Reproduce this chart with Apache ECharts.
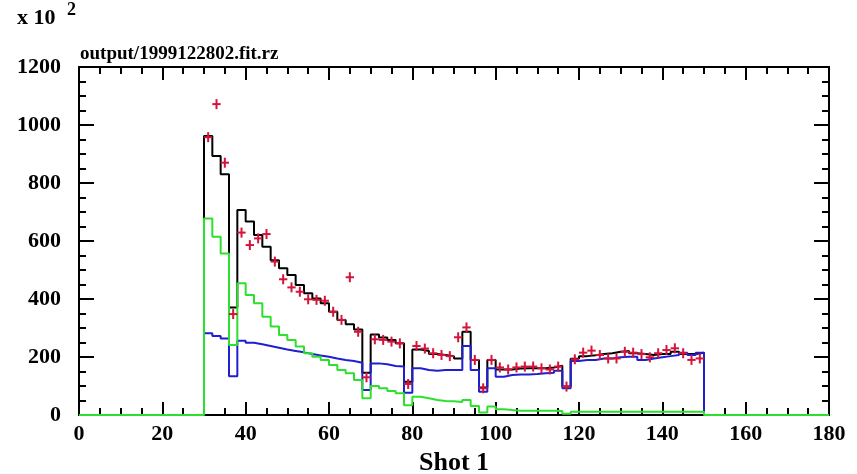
<!DOCTYPE html>
<html>
<head>
<meta charset="utf-8">
<title>Shot 1</title>
<script src="https://cdn.jsdelivr.net/npm/echarts@6/dist/echarts.min.js"></script>
<style>
  html, body { margin: 0; padding: 0; background: #fff; }
  #chart { width: 857px; height: 474px; }
</style>
</head>
<body>
<div id="chart"></div>
<script>
// histogram bins: 60 bins of width 2, from 30 to 150 (values in units of 10^2)
const binStart = 30;
const binWidth = 2;

const blackHist = [962, 893, 830, 371, 707, 667, 621, 580, 534, 506,
  483, 448, 420, 402, 385, 356, 328, 313, 295, 146,
  278, 267, 259, 247, 115, 226, 221, 210, 207, 203,
  195, 287, 190, 95, 190, 157, 157, 160, 161, 161,
  161, 164, 170, 98, 194, 203, 206, 210, 213, 218,
  221, 213, 210, 207, 210, 210, 218, 210, 210, 215];

const blueHist = [282, 272, 264, 134, 256, 249, 244, 238, 232, 226,
  221, 216, 210, 205, 201, 195, 190, 186, 180, 86,
  178, 175, 169, 167, 77, 161, 155, 153, 155, 155,
  155, 238, 155, 80, 161, 132, 138, 140, 140, 141,
  144, 146, 153, 92, 186, 190, 190, 195, 195, 199,
  201, 201, 190, 195, 199, 203, 207, 215, 207, 215];

const greenHist = [678, 615, 557, 241, 454, 414, 385, 339, 305, 276,
  259, 236, 213, 201, 190, 172, 155, 144, 121, 58,
  100, 92, 83, 75, 34, 63, 58, 52, 48, 47,
  45, 52, 31, 9, 29, 20, 17, 15, 15, 15,
  15, 15, 14, 4, 11, 11, 11, 11, 11, 11,
  11, 11, 11, 11, 11, 11, 11, 11, 11, 11];

// measured points, one per bin centre
const redPoints = [958, 1072, 870, 348, 629, 586, 609, 624, 529, 468,
  440, 425, 399, 397, 394, 356, 328, 475, 287, 130,
  261, 259, 253, 247, 107, 238, 229, 213, 207, 203,
  268, 302, 190, 92, 190, 164, 157, 164, 167, 167,
  161, 157, 167, 98, 192, 215, 222, 207, 195, 195,
  218, 215, 210, 199, 213, 224, 230, 213, 190, 195];

const xTicks = [0, 20, 40, 60, 80, 100, 120, 140, 160, 180];
const yTicks = [0, 200, 400, 600, 800, 1000, 1200];

const serif = '"Liberation Serif", "DejaVu Serif", serif';

function stepData(vals) {
  let d = [[xTicks[0], 0]];
  vals.forEach((v, i) => d.push([binStart + i * binWidth, v]));
  d.push([binStart + vals.length * binWidth, 0]);
  d.push([xTicks[xTicks.length - 1], 0]);
  return d;
}

function stepSeries(name, vals, color, z) {
  return {
    name: name,
    type: 'line',
    step: 'end',
    data: stepData(vals),
    showSymbol: false,
    lineStyle: { color: color, width: 2 },
    z: z,
    silent: true
  };
}

const chartDom = document.getElementById('chart');
const myChart = echarts.init(chartDom);

const axisCommon = {
  axisLine: { show: true, onZero: false, lineStyle: { color: '#000', width: 2 } },
  splitLine: { show: false },
  minorSplitLine: { show: false }
};

let option = {
  animation: false,
  backgroundColor: '#fff',
  grid: { left: 79, top: 67, width: 750, height: 348, containLabel: false, outerBoundsMode: 'none' },
  graphic: [
    {
      type: 'text', left: 17, top: 7,
      style: { text: 'x 10', font: 'bold 22px ' + serif, fill: '#000' }
    },
    {
      type: 'text', left: 67, top: 1,
      style: { text: '2', font: 'bold 18px ' + serif, fill: '#000' }
    },
    {
      type: 'text', left: 80, top: 45,
      style: { text: 'output/1999122802.fit.rz', font: 'bold 19px ' + serif, fill: '#000' }
    }
  ],
  xAxis: [
    Object.assign({
      type: 'value', position: 'bottom',
      min: 0, max: 180, interval: 20,
      axisTick: { show: true, inside: true, length: 13, lineStyle: { color: '#000', width: 2 } },
      minorTick: { show: true, splitNumber: 4, length: 7, lineStyle: { color: '#000', width: 2 } },
      axisLabel: {
        margin: 8, color: '#000', fontFamily: serif, fontWeight: 'bold', fontSize: 22,
        formatter: v => String(v)
      },
      name: 'Shot 1', nameLocation: 'middle', nameGap: 34,
      nameTextStyle: { color: '#000', fontFamily: serif, fontWeight: 'bold', fontSize: 26 }
    }, axisCommon),
    Object.assign({
      type: 'value', position: 'top',
      min: 0, max: 180, interval: 20,
      axisTick: { show: true, inside: true, length: 13, lineStyle: { color: '#000', width: 2 } },
      minorTick: { show: true, splitNumber: 4, length: 7, lineStyle: { color: '#000', width: 2 } },
      axisLabel: { show: false }
    }, axisCommon)
  ],
  yAxis: [
    Object.assign({
      type: 'value', position: 'left',
      min: 0, max: 1200, interval: 200,
      axisTick: { show: true, inside: true, length: 15, lineStyle: { color: '#000', width: 2 } },
      minorTick: { show: true, splitNumber: 4, length: 7, lineStyle: { color: '#000', width: 2 } },
      axisLabel: {
        margin: 18, color: '#000', fontFamily: serif, fontWeight: 'bold', fontSize: 22,
        formatter: v => String(v)
      }
    }, axisCommon),
    Object.assign({
      type: 'value', position: 'right',
      min: 0, max: 1200, interval: 200,
      axisTick: { show: true, inside: true, length: 15, lineStyle: { color: '#000', width: 2 } },
      minorTick: { show: true, splitNumber: 4, length: 7, lineStyle: { color: '#000', width: 2 } },
      axisLabel: { show: false }
    }, axisCommon)
  ],
  series: [
    stepSeries('total', blackHist, '#000000', 2),
    stepSeries('component 1', blueHist, '#1f1fd0', 3),
    stepSeries('component 2', greenHist, '#2ee02e', 4),
    {
      name: 'data',
      type: 'custom',
      z: 5,
      silent: true,
      data: redPoints.map((v, i) => [binStart + (i + 0.5) * binWidth, v]),
      renderItem: function (params, api) {
        const p = api.coord([api.value(0), api.value(1)]);
        const w = api.size([binWidth, 0])[0];
        const st = { stroke: '#d4143a', lineWidth: 2 };
        return {
          type: 'group',
          children: [
            { type: 'line', shape: { x1: p[0] - w / 2, y1: p[1], x2: p[0] + w / 2, y2: p[1] }, style: st },
            { type: 'line', shape: { x1: p[0], y1: p[1] - 5, x2: p[0], y2: p[1] + 5 }, style: st }
          ]
        };
      }
    }
  ]
};

myChart.setOption(option);
</script>
</body>
</html>
